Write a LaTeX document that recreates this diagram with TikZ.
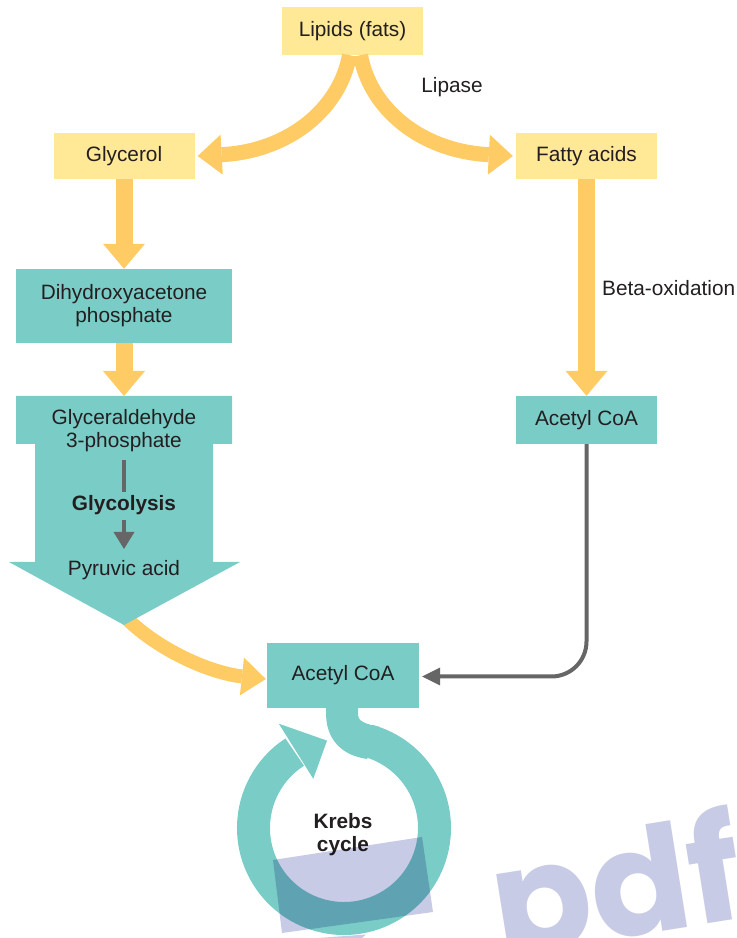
\documentclass[tikz,border=0pt]{standalone}
\usepackage{fontspec}
\setmainfont{Liberation Sans}
\newfontfamily\wmfont{Poppins}
\usetikzlibrary{arrows.meta,calc}

\definecolor{boxyellow}{RGB}{255,232,150}
\definecolor{arrowyellow}{RGB}{254,203,100}
\definecolor{tealbox}{RGB}{122,204,199}
\definecolor{connectorgray}{RGB}{102,102,102}
\definecolor{inkdark}{RGB}{35,31,32}
\definecolor{lavender}{RGB}{200,203,229}

\begin{document}
\begin{tikzpicture}[x=1pt,y=1pt,
  every node/.style={text=inkdark, font=\fontsize{20.8}{23}\selectfont, align=center, inner sep=0pt},
  ybox/.style={fill=boxyellow, minimum width=141pt, minimum height=47pt},
  tbox/.style={fill=tealbox},
  fatarrow/.style={draw=arrowyellow, line width=17pt, -{Triangle[width=42pt,length=25pt,line width=0pt]}},
  curvarrow/.style={draw=arrowyellow, line width=15pt, -{Triangle[width=40pt,length=24pt,line width=0pt]}},
  gline/.style={draw=connectorgray, line width=4pt},
  gtip/.style={-{Triangle[width=21pt,length=17pt,line width=0pt]}},
  ctip/.style={-{Triangle[width=18pt,length=18pt,line width=0pt]}},
  boldtext/.style={font=\fontsize{20.8}{23}\selectfont\bfseries},
]
\useasboundingbox (0,0) rectangle (737,938);

% ---- boxes ----
\node[ybox, minimum height=48pt] (lipids) at (352.5,907) {Lipids (fats)};
\node[ybox, minimum height=46pt] (glycerol) at (124,782) {Glycerol};
\node[ybox, minimum height=46pt] (fatty) at (586.5,782) {Fatty acids};
\node[tbox, minimum width=216pt, minimum height=74pt] (dhap) at (124,632) {Dihydroxyacetone\\phosphate};
\node[tbox, minimum width=141pt, minimum height=48pt] (accR) at (586.5,518) {Acetyl CoA};

% ---- labels ----
\node (lipase) at (452,851) {Lipase};
\node[anchor=west] (beta) at (602,650) {Beta-oxidation};

% ---- lipid split ----
\draw[curvarrow] ($(lipids.south)+(-3,0)$) .. controls (340,830) and (290,787) .. ($(glycerol.east)+(3,0)$);
\draw[curvarrow] ($(lipids.south)+(8,0)$) .. controls (370,830) and (420,787) .. ($(fatty.west)+(-3,0)$);

% ---- straight yellow arrows ----
\coordinate (g3ptop) at (124,542);
\draw[fatarrow] (glycerol.south) -- (dhap.north);
\draw[fatarrow] (dhap.south) -- (g3ptop);
\draw[fatarrow] (fatty.south) -- (accR.north);

% ---- Krebs ring with its stem ----
\coordinate (kc) at (344,110);
\draw[tealbox, line width=33pt] ($(kc)+(75:90.5)$) arc[start angle=75, end angle=-237, radius=90.5];
\fill[tealbox] ($(kc)+(122:123)$) -- ($(kc)+(101:89)$) -- ($(kc)+(122:58)$) -- cycle;
\fill[tealbox] (326,234) -- (326,225) .. controls (326,200) and (340,183) .. (367,179)
  -- (380,211) .. controls (366,214) and (358,216) .. (358,224) -- (358,234) -- cycle;
\node[tbox, minimum width=152pt, minimum height=65pt] (accB) at (343,262.5) {Acetyl CoA};
\node[boldtext] (krebs) at (343,103) {Krebs\\cycle};

% ---- pyruvic acid to acetyl CoA ----
\draw[curvarrow, line width=14pt, -{Triangle[width=38pt,length=24pt,line width=0pt]}]
  (115,332) .. controls (150,290) and (210,265) .. ($(accB.west)+(-1,-3.5)$);

% ---- glycolysis block arrow ----
\coordinate (bigtip) at (124,313);
\fill[tealbox] (16,542) -- (232,542) -- (232,494) -- (213,494) -- (213,376) -- (240,376)
  -- (bigtip) -- (9,376) -- (35,376) -- (35,494) -- (16,494) -- cycle;
\node (g3p) at (124,507.5) {Glyceraldehyde\\3-phosphate};
\node[boldtext] (glyco) at (124,433) {Glycolysis};
\node (pyruvic) at (124,368) {Pyruvic acid};
\draw[gline] ($(glyco)+(0,45)$) -- ($(glyco)+(0,13)$);
\draw[gline, gtip] ($(glyco)+(0,-15)$) -- ($(glyco)+(0,-44)$);

% ---- beta-oxidation product to Krebs entry ----
\draw[gline, ctip, rounded corners=35pt] (accR.south) |- ($(accB.east)+(3,-1)$);

% ---- overprint ----
\begin{scope}[blend mode=multiply]
  \clip (0,0) rectangle (737,938);
  \fill[lavender] (273,78) -- (422,101) -- (433,26) -- (282,5) -- cycle;
  \fill[lavender] (318,0) -- (366,3.5) -- (362,0) -- cycle;
  \node[rotate=9, anchor=base west, text=lavender, font=\wmfont\bfseries\fontsize{146}{146}\selectfont] (wm) at (500,-19) {pdf};
\end{scope}
\end{tikzpicture}
\end{document}
